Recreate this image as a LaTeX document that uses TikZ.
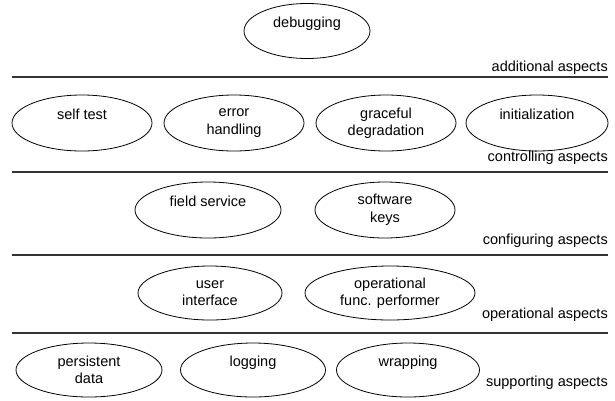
\documentclass[tikz,border=0pt]{standalone}
\usepackage{fontspec}
\setmainfont{Liberation Sans}
\usetikzlibrary{shapes.geometric}
\begin{document}
\begin{tikzpicture}[x=1pt,y=-1pt,
  aspect/.style={draw=black, line width=0.8pt, ellipse, inner sep=0pt,
    minimum width=142pt, minimum height=56pt, align=center,
    font=\fontsize{14.5}{17.5}\selectfont},
  layerlabel/.style={anchor=east, inner sep=0pt, font=\fontsize{14.5}{17.5}\selectfont},
  sep/.style={line width=1.2pt, draw=black!80}]
\useasboundingbox (0,0) rectangle (615,400);

% row 1
\node[aspect, minimum width=126pt, minimum height=55pt] (debug) at (307,31) {debugging\\\mbox{}};
\node[layerlabel] (lab1) at (608,68) {additional aspects};
\coordinate (s1a) at (12,77); \coordinate (s1b) at (608,77);
\draw[sep] (s1a) -- (s1b);

% row 2
\node[aspect, minimum width=140pt] (self) at (82,123) {self test\\\mbox{}};
\node[aspect, minimum width=140pt] (err) at (234,123) {error\\handling};
\node[aspect, minimum width=140pt] (grace) at (386,123) {graceful\\degradation};
\node[aspect, minimum width=142pt] (init) at (537,123) {initialization\\\mbox{}};
\node[layerlabel] (lab2) at (608,158) {controlling aspects};
\coordinate (s2a) at (12,172); \coordinate (s2b) at (608,172);
\draw[sep] (s2a) -- (s2b);

% row 3
\node[aspect, minimum width=146pt] (field) at (208,210) {field service\\\mbox{}};
\node[aspect, minimum width=140pt] (keys) at (385,210) {software\\keys};
\node[layerlabel] (lab3) at (608,241) {configuring aspects};
\coordinate (s3a) at (12,255); \coordinate (s3b) at (608,255);
\draw[sep] (s3a) -- (s3b);

% row 4
\node[aspect, minimum width=144pt, minimum height=54pt] (ui) at (210,293) {user\\interface};
\node[aspect, minimum width=170pt, minimum height=54pt] (opf) at (390,293) {operational\\func. performer};
\node[layerlabel] (lab4) at (608,315) {operational aspects};
\coordinate (s4a) at (12,333); \coordinate (s4b) at (608,333);
\draw[sep] (s4a) -- (s4b);

% row 5
\node[aspect, minimum width=146pt, minimum height=54pt] (pers) at (89,370) {persistent\\data};
\node[aspect, minimum width=145pt, minimum height=54pt] (log) at (253,370) {logging\\\mbox{}};
\node[aspect, minimum width=143pt, minimum height=54pt] (wrap) at (408,370) {wrapping\\\mbox{}};
\node[layerlabel] (lab5) at (608,383) {supporting aspects};
\end{tikzpicture}
\end{document}
